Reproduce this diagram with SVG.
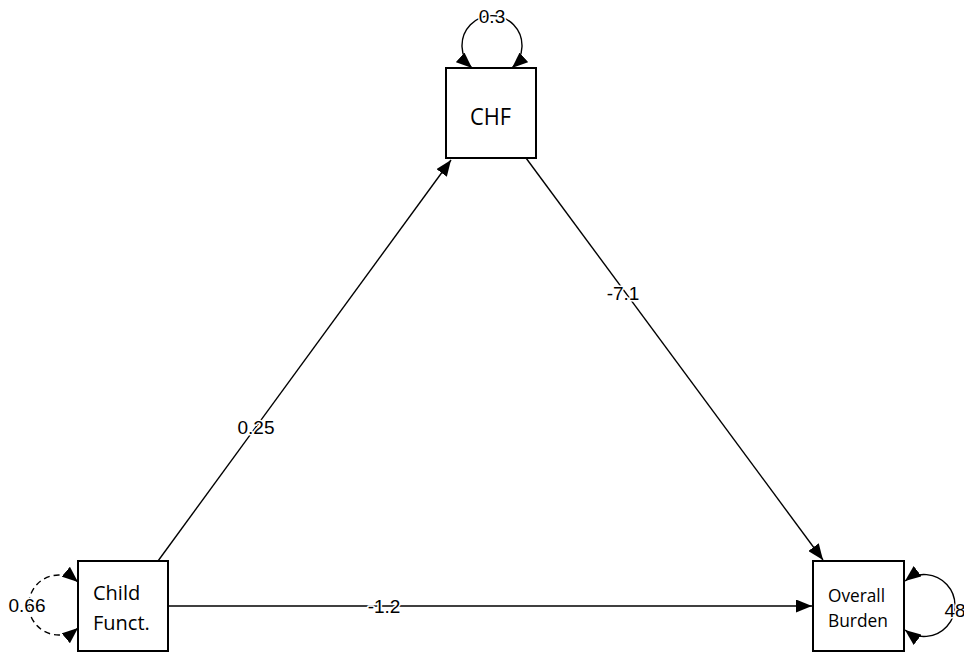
<svg xmlns="http://www.w3.org/2000/svg" width="964" height="652" viewBox="0 0 964 652">
<style>
.box{fill:#fff;stroke:#000;stroke-width:2}
.edge{fill:none;stroke:#000;stroke-width:1.4}
.dash{stroke-dasharray:6 4}
.nl{font-family:"Open Sans","Liberation Sans",sans-serif;font-size:20px;fill:#000}
.big{font-size:24px}
.mid{font-size:18.5px}
.el{font-family:"Liberation Sans",Arial,sans-serif;font-size:19px;fill:#000;text-anchor:middle;stroke:#fff;stroke-width:3;paint-order:stroke;stroke-linejoin:round}
</style>
<defs>
<marker id="ah" markerUnits="userSpaceOnUse" markerWidth="16" markerHeight="13" refX="16" refY="6.5" orient="auto-start-reverse" viewBox="0 0 16 13">
<path d="M0,0 L16,6.5 L0,13 z" fill="#000"/>
</marker>
</defs>
<g id="connectors">
<path class="edge" d="M158,561 L451,160" marker-end="url(#ah)"/>
<path class="edge" d="M526,158 L823,560" marker-end="url(#ah)"/>
<path class="edge" d="M168,606 L812,606" marker-end="url(#ah)"/>
<path class="edge" d="M472,68 A30,30 0 1 1 512,68" marker-start="url(#ah)" marker-end="url(#ah)"/>
<path class="edge dash" d="M78,582 A30,30 0 1 0 78,628" marker-start="url(#ah)" marker-end="url(#ah)"/>
<path class="edge" d="M905,581 A31,31 0 1 1 905,630" marker-start="url(#ah)" marker-end="url(#ah)"/>
<text class="el" x="256" y="434">0.25</text>
<text class="el" x="623" y="300">-7.1</text>
<text class="el" x="384" y="613">-1.2</text>
<text class="el" x="492" y="23">0.3</text>
<text class="el" x="27" y="612">0.66</text>
<text class="el" x="955" y="617">48</text>
</g>
<g id="chf">
<rect class="box" x="446" y="68" width="90" height="90"/>
<text class="nl big" x="470" y="125" textLength="41" lengthAdjust="spacingAndGlyphs">CHF</text>
</g>
<g id="child">
<rect class="box" x="78" y="561" width="90" height="90"/>
<text class="nl" x="93" y="600">Child</text>
<text class="nl" x="93" y="630">Funct.</text>
</g>
<g id="burden">
<rect class="box" x="813" y="561" width="91" height="90"/>
<text class="nl mid" x="828" y="602" textLength="57" lengthAdjust="spacingAndGlyphs">Overall</text>
<text class="nl mid" x="828" y="627" textLength="60" lengthAdjust="spacingAndGlyphs">Burden</text>
</g>
</svg>
